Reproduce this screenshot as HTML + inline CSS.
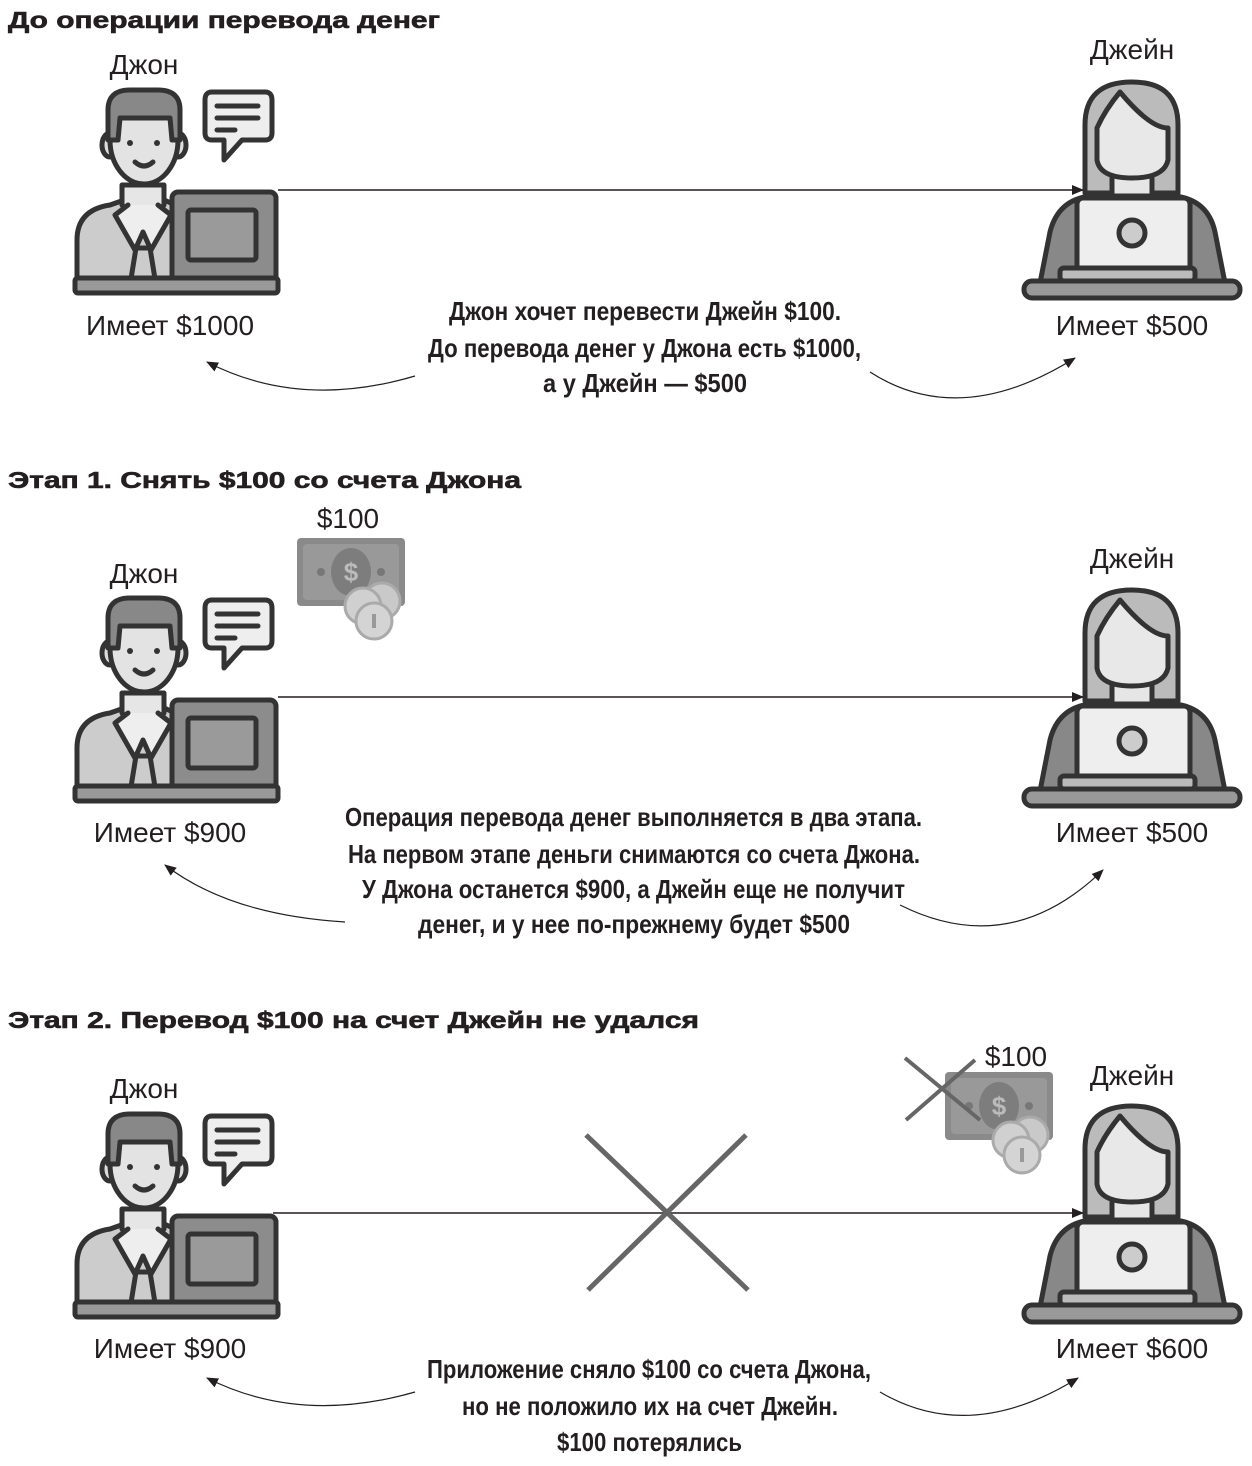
<!DOCTYPE html>
<html><head><meta charset="utf-8"><style>
html,body{margin:0;padding:0;background:#fff;}
svg{display:block;}
.h{font-family:"Liberation Sans",sans-serif;font-weight:bold;font-size:23px;fill:#231f20;stroke:#231f20;stroke-width:0.6;}
.n{font-family:"Liberation Sans",sans-serif;font-size:28px;fill:#231f20;}
.c{font-family:"Liberation Sans Narrow","Liberation Sans",sans-serif;font-weight:bold;font-size:26px;fill:#231f20;}
</style></head><body>
<svg width="1252" height="1466" viewBox="0 0 1252 1466">
<defs>
<marker id="ah" viewBox="0 0 12 10" refX="11" refY="5" markerWidth="12" markerHeight="10" markerUnits="userSpaceOnUse" orient="auto"><path d="M0,0 L12,5 L0,10 Z" fill="#231f20"/></marker>
<g id="john" stroke="#333" stroke-width="5" stroke-linejoin="round" stroke-linecap="round">
  <path d="M77,290 L77,240 Q77,210 110,205 L130,198 L160,198 L175,205 L175,290 Z" fill="#ccc"/>
  <path d="M122,185 L122,205 L143,230 L164,205 L164,185 Z" fill="#e6e6e6"/>
  <path d="M128,205 L115,215 L135,250 L143,232 L151,250 L171,215 L158,205" fill="#eee"/>
  <path d="M136,248 L130,285 L156,285 L150,248 Z" fill="#ccc"/>
  <ellipse cx="110" cy="145" rx="8" ry="12" fill="#ddd"/>
  <ellipse cx="178" cy="145" rx="8" ry="12" fill="#ddd"/>
  <ellipse cx="144" cy="140" rx="34" ry="44" fill="#e3e3e3"/>
  <path d="M108,140 L108,110 Q108,90 130,90 L158,90 Q180,90 180,110 L180,140 L172,140 L170,118 L120,118 L118,140 Z" fill="#888"/>
  <circle cx="130" cy="143" r="3" fill="#333" stroke="none"/>
  <circle cx="157" cy="143" r="3" fill="#333" stroke="none"/>
  <path d="M135,162 Q144,170 153,162" fill="none"/>
  <path d="M212,92 L265,92 Q272,92 272,100 L272,133 Q272,140 265,140 L242,140 L224,160 L224,140 L212,140 Q205,140 205,133 L205,100 Q205,92 212,92 Z" fill="#eee"/>
  <path d="M217,106 L258,106 M217,118 L258,118 M217,130 L235,130" fill="none"/>
  <rect x="172" y="192" width="104" height="92" rx="6" fill="#8c8c8c"/>
  <rect x="188" y="210" width="68" height="50" rx="3" fill="#9a9a9a"/>
  <rect x="75" y="278" width="203" height="15" rx="3" fill="#999"/>
</g>
<g id="jane" stroke="#333" stroke-width="5" stroke-linejoin="round" stroke-linecap="round">
  <path d="M1085,193 L1085,125 Q1085,82 1132,82 Q1178,82 1178,125 L1178,193 Z" fill="#bbb"/>
  <path d="M1040,283 L1050,232 Q1058,200 1090,196 L1175,196 Q1208,200 1215,232 L1225,283 Z" fill="#888"/>
  <path d="M1112,170 L1112,196 L1152,196 L1152,170 Z" fill="#e6e6e6"/>
  <path d="M1097,128 L1097,160 Q1100,178 1132,178 Q1164,178 1168,160 L1168,128 Q1150,128 1120,92 Q1105,110 1097,128 Z" fill="#e8e8e8"/>
  <rect x="1077" y="198" width="113" height="76" rx="6" fill="#eee"/>
  <circle cx="1132" cy="233" r="13" fill="#ccc"/>
  <rect x="1060" y="268" width="135" height="13" rx="4" fill="#bbb"/>
  <rect x="1024" y="281" width="216" height="17" rx="8" fill="#999"/>
</g>
<g id="money">
  <rect x="0" y="0" width="108" height="68" rx="4" fill="#8a8a8a"/>
  <rect x="6" y="6" width="96" height="56" rx="4" fill="#999"/>
  <ellipse cx="54" cy="34" rx="20" ry="24" fill="#7d7d7d"/>
  <text x="54" y="43" text-anchor="middle" style="font-family:'Liberation Sans',sans-serif;font-weight:bold;font-size:26px;fill:#bbb">$</text>
  <circle cx="24" cy="34" r="4" fill="#777"/><circle cx="84" cy="34" r="4" fill="#777"/>
  <circle cx="85" cy="63" r="18" fill="#c9c9c9" stroke="#aaa" stroke-width="3"/>
  <circle cx="66" cy="68" r="18" fill="#d0d0d0" stroke="#aaa" stroke-width="3"/>
  <circle cx="77" cy="83" r="18" fill="#d4d4d4" stroke="#aaa" stroke-width="3"/>
  <rect x="75" y="76" width="4" height="14" fill="#999"/>
</g>
</defs>

<!-- Section 1 -->
<g>
<text class="h" x="8" y="28" textLength="432" lengthAdjust="spacingAndGlyphs">До операции перевода денег</text>
<use href="#john"/>
<use href="#jane"/>
<text class="n" x="144" y="74" text-anchor="middle">Джон</text>
<text class="n" x="1132" y="59" text-anchor="middle">Джейн</text>
<line x1="278" y1="190" x2="1083" y2="190" stroke="#231f20" stroke-width="1.5" marker-end="url(#ah)"/>
<text class="n" x="170" y="335" text-anchor="middle">Имеет $1000</text>
<text class="n" x="1132" y="335" text-anchor="middle">Имеет $500</text>
<g>
<text class="c" x="449" y="320" textLength="392" lengthAdjust="spacingAndGlyphs">Джон хочет перевести Джейн $100.</text>
<text class="c" x="428" y="357" textLength="433" lengthAdjust="spacingAndGlyphs">До перевода денег у Джона есть $1000,</text>
<text class="c" x="543" y="392" textLength="204" lengthAdjust="spacingAndGlyphs">а у Джейн — $500</text>
</g>
<path d="M415,376 Q300,410 207,362" fill="none" stroke="#231f20" stroke-width="1.2" marker-end="url(#ah)"/>
<path d="M870,372 Q960,430 1075,358" fill="none" stroke="#231f20" stroke-width="1.2" marker-end="url(#ah)"/>
</g>

<!-- Section 2 -->
<g>
<text class="h" x="8" y="488" textLength="513" lengthAdjust="spacingAndGlyphs">Этап 1. Снять $100 со счета Джона</text>
<use href="#john" y="508"/>
<use href="#jane" y="508"/>
<text class="n" x="144" y="583" text-anchor="middle">Джон</text>
<text class="n" x="1132" y="568" text-anchor="middle">Джейн</text>
<text class="n" x="348" y="528" text-anchor="middle">$100</text>
<use href="#money" x="297" y="538"/>
<line x1="278" y1="697" x2="1083" y2="697" stroke="#231f20" stroke-width="1.5" marker-end="url(#ah)"/>
<text class="n" x="170" y="842" text-anchor="middle">Имеет $900</text>
<text class="n" x="1132" y="842" text-anchor="middle">Имеет $500</text>
<g>
<text class="c" x="345" y="826" textLength="577" lengthAdjust="spacingAndGlyphs">Операция перевода денег выполняется в два этапа.</text>
<text class="c" x="348" y="863" textLength="572" lengthAdjust="spacingAndGlyphs">На первом этапе деньги снимаются со счета Джона.</text>
<text class="c" x="362" y="898" textLength="543" lengthAdjust="spacingAndGlyphs">У Джона останется $900, а Джейн еще не получит</text>
<text class="c" x="418" y="933" textLength="432" lengthAdjust="spacingAndGlyphs">денег, и у нее по-прежнему будет $500</text>
</g>
<path d="M345,922 Q230,915 165,865" fill="none" stroke="#231f20" stroke-width="1.2" marker-end="url(#ah)"/>
<path d="M900,905 Q1010,960 1103,870" fill="none" stroke="#231f20" stroke-width="1.2" marker-end="url(#ah)"/>
</g>

<!-- Section 3 -->
<g>
<text class="h" x="8" y="1028" textLength="691" lengthAdjust="spacingAndGlyphs">Этап 2. Перевод $100 на счет Джейн не удался</text>
<use href="#john" y="1024"/>
<use href="#jane" y="1024"/>
<text class="n" x="144" y="1098" text-anchor="middle">Джон</text>
<text class="n" x="1132" y="1085" text-anchor="middle">Джейн</text>
<text class="n" x="1016" y="1066" text-anchor="middle">$100</text>
<use href="#money" x="945" y="1072"/>
<path d="M905,1058 L980,1120 M975,1060 L906,1120" stroke="#666" stroke-width="4"/>
<line x1="273" y1="1213" x2="1083" y2="1213" stroke="#231f20" stroke-width="1.5" marker-end="url(#ah)"/>
<path d="M586,1135 L748,1290 M746,1135 L588,1290" stroke="#666" stroke-width="5"/>
<text class="n" x="170" y="1358" text-anchor="middle">Имеет $900</text>
<text class="n" x="1132" y="1358" text-anchor="middle">Имеет $600</text>
<g>
<text class="c" x="427" y="1378" textLength="444" lengthAdjust="spacingAndGlyphs">Приложение сняло $100 со счета Джона,</text>
<text class="c" x="462" y="1415" textLength="376" lengthAdjust="spacingAndGlyphs">но не положило их на счет Джейн.</text>
<text class="c" x="557" y="1451" textLength="185" lengthAdjust="spacingAndGlyphs">$100 потерялись</text>
</g>
<path d="M415,1392 Q300,1425 207,1378" fill="none" stroke="#231f20" stroke-width="1.2" marker-end="url(#ah)"/>
<path d="M880,1392 Q970,1445 1078,1378" fill="none" stroke="#231f20" stroke-width="1.2" marker-end="url(#ah)"/>
</g>
</svg>
</body></html>
